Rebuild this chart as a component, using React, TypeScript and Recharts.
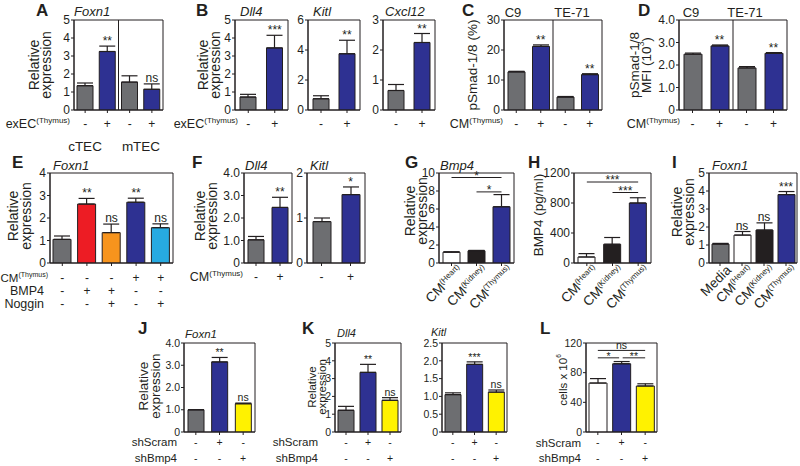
import React from "react";
import {
  ComposedChart,
  Bar,
  Line,
  XAxis,
  YAxis,
  ErrorBar,
  Cell,
  LabelList,
  ReferenceLine,
  ReferenceArea,
} from "recharts";

const INK = "#231f20";
const FONT = "'Liberation Sans', Arial, Helvetica, sans-serif";
const GRAY = "#6d6e71";
const NAVY = "#2e3192";
const BLACK = "#231f20";
const WHITE = "#ffffff";
const YELLOW = "#fff200";
const RED = "#ed1c24";
const ORANGE = "#f7941d";
const SKY = "#27aae1";

// A - Foxn1 in cTEC / mTEC
const aValues = [1.35, 3.25, 1.55, 1.15];
const aErrors = [0.15, 0.3, 0.35, 0.3];
const aSig = ["", "**", "", "ns"];
const aExEC = ["-", "+", "-", "+"];

// B - Dll4, Kitl, Cxcl12
const bDll4 = [0.72, 3.45];
const bDll4Err = [0.15, 0.7];
const bKitl = [0.75, 3.75];
const bKitlErr = [0.2, 0.9];
const bCxcl12 = [0.65, 2.25];
const bCxcl12Err = [0.2, 0.3];
const bDll4Sig = ["", "***"];
const bSig = ["", "**"];
const pairTreat = ["-", "+"];

// C / D - pSmad-1/8
const cValues = [12.7, 21.2, 4.3, 11.8];
const cErrors = [0.2, 0.5, 0.2, 0.3];
const dValues = [2.48, 2.85, 1.87, 2.52];
const dErrors = [0.05, 0.04, 0.06, 0.03];
const cdSig = ["", "**", "", "**"];
const cmTreat = ["-", "+", "-", "+"];

// E - Foxn1 with BMP4 / Noggin
const eValues = [1.05, 2.62, 1.35, 2.7, 1.57];
const eErrors = [0.15, 0.25, 0.38, 0.18, 0.17];
const eSig = ["", "**", "ns", "**", "ns"];
const eCM = ["-", "-", "-", "+", "+"];
const eBMP4 = ["-", "+", "+", "-", "-"];
const eNoggin = ["-", "-", "+", "-", "+"];

// F - Dll4, Kitl
const fDll4 = [1.03, 2.47];
const fDll4Err = [0.15, 0.45];
const fKitl = [0.92, 1.52];
const fKitlErr = [0.08, 0.17];
const fDll4Sig = ["", "**"];
const fKitlSig = ["", "*"];

// G / H - Bmp4 by CM source
const organLabels = [
  ["CM", "(Heart)"],
  ["CM", "(Kidney)"],
  ["CM", "(Thymus)"],
];
const gValues = [1.2, 1.35, 6.25];
const gErrors = [0.05, 0.05, 1.35];
const hValues = [80, 250, 800];
const hErrors = [45, 90, 70];
const noSig3 = ["", "", ""];

// I - Foxn1 by CM source
const iLabels = [["Media", ""], ...organLabels];
const iValues = [1.05, 1.55, 1.83, 3.8];
const iErrors = [0.04, 0.2, 0.4, 0.17];
const iSig = ["", "ns", "ns", "***"];

// J / K / L - shScram / shBmp4
const jValues = [1.0, 3.15, 1.27];
const jErrors = [0, 0.2, 0.03];
const jSig = ["", "**", "ns"];
const kDll4 = [1.22, 3.35, 1.78];
const kDll4Err = [0.22, 0.45, 0.15];
const kDll4Sig = ["", "**", "ns"];
const kKitl = [1.05, 1.9, 1.12];
const kKitlErr = [0.05, 0.07, 0.06];
const kKitlSig = ["", "***", "ns"];
const lValues = [66, 92, 62];
const lErrors = [6, 3, 3];
const shScram = ["-", "+", "-"];
const shBmp4 = ["-", "-", "+"];

interface Bracket {
  from: number;
  to: number;
  y: number;
  text: string;
}
interface Row {
  y: number;
  vals: string[];
}
interface PanelProps {
  left: number;
  top: number;
  width: number;
  height: number;
  values: number[];
  errors: number[];
  sig: string[];
  colors: string[];
  yMax: number;
  ticks: number[];
  decimals?: number;
  barSize: number;
  fs?: number;
  dividers?: number[];
  brackets?: Bracket[];
  rows?: Row[];
  rotated?: string[][];
}

const PAD_T = 16;
const AX_W = 42;
const PAD_R = 6;
const AX_H = 62;

function Panel(p: PanelProps) {
  const fs = p.fs ?? 12;
  const n = p.values.length;
  const originY = p.top - PAD_T;
  const data = p.values.map((v, i) => ({
    x: i + 1,
    v,
    err: [0, p.errors[i]],
    top: v + p.errors[i],
    sig: p.sig[i],
  }));
  const xTicks = data.map((d) => d.x);

  const renderTick = (t: any) => {
    const i = Math.round(t.payload.value) - 1;
    const x = t.x;
    if (p.rotated) {
      const [main, sup] = p.rotated[i];
      const ax = x + 12;
      const ay = PAD_T + p.height + 8;
      return (
        <text
          x={ax}
          y={ay}
          transform={`rotate(-45 ${ax} ${ay})`}
          textAnchor="end"
          fontSize={fs + 1.5}
          fill={INK}
          fontFamily={FONT}
        >
          {main}
          {sup ? (
            <tspan fontSize={fs - 4} dy={-5}>
              {sup}
            </tspan>
          ) : null}
        </text>
      );
    }
    return (
      <g>
        {(p.rows || []).map((r, k) => (
          <text
            key={k}
            x={x}
            y={r.y - originY}
            textAnchor="middle"
            fontSize={fs}
            fill={INK}
            fontFamily={FONT}
          >
            {r.vals[i]}
          </text>
        ))}
      </g>
    );
  };

  const sigLabel = (props: any) => {
    const { x, y, value } = props;
    if (!value) return null;
    const star = String(value).includes("*");
    return (
      <text
        x={x}
        y={y + (star ? -1 : -2)}
        textAnchor="middle"
        fontSize={fs}
        fill={INK}
        fontFamily={FONT}
      >
        {value}
      </text>
    );
  };

  const fmt = (v: number) => (v === 0 ? "0" : v.toFixed(p.decimals ?? 0));

  return (
    <div
      style={{
        position: "absolute",
        left: p.left - AX_W,
        top: originY,
        width: p.width + AX_W + PAD_R,
        height: p.height + PAD_T + AX_H,
      }}
    >
      <ComposedChart
        width={p.width + AX_W + PAD_R}
        height={p.height + PAD_T + AX_H}
        data={data}
        margin={{ top: PAD_T, right: PAD_R, left: 0, bottom: 0 }}
        style={{ overflow: "visible" }}
      >
        <XAxis
          dataKey="x"
          type="number"
          domain={[0.5, n + 0.5]}
          ticks={xTicks}
          interval={0}
          height={AX_H}
          tick={renderTick}
          tickSize={3}
          axisLine={{ stroke: INK }}
          tickLine={{ stroke: INK }}
          allowDataOverflow
        />
        <YAxis
          type="number"
          domain={[0, p.yMax]}
          ticks={p.ticks}
          interval={0}
          width={AX_W}
          tickFormatter={fmt}
          tickSize={3}
          tickMargin={1}
          tick={{ fontSize: fs, fill: INK, fontFamily: FONT }}
          axisLine={{ stroke: INK }}
          tickLine={{ stroke: INK }}
          allowDataOverflow
        />
        <Bar
          dataKey="v"
          barSize={p.barSize}
          stroke={INK}
          strokeWidth={1}
          isAnimationActive={false}
        >
          {data.map((d, i) => (
            <Cell key={i} fill={p.colors[i]} />
          ))}
          <ErrorBar
            dataKey="err"
            direction="y"
            width={8}
            stroke={INK}
            strokeWidth={1.2}
            isAnimationActive={false}
          />
        </Bar>
        <Line
          dataKey="top"
          stroke="none"
          dot={false}
          activeDot={false}
          legendType="none"
          isAnimationActive={false}
        >
          <LabelList dataKey="sig" content={sigLabel} />
        </Line>
        {(p.dividers || []).map((d) => (
          <ReferenceLine key={d} x={d} stroke={INK} strokeWidth={1} />
        ))}
        {(p.brackets || []).map((b, k) => (
          <ReferenceLine
            key={"b" + k}
            segment={[
              { x: b.from, y: b.y },
              { x: b.to, y: b.y },
            ]}
            stroke={INK}
            strokeWidth={1}
            label={{
              value: b.text,
              position: "top",
              offset: b.text.includes("*") ? -2 : 1,
              fontSize: fs,
              fill: INK,
              fontFamily: FONT,
            }}
          />
        ))}
        <ReferenceArea
          x1={0.5}
          x2={n + 0.5}
          y1={0}
          y2={p.yMax}
          fill="none"
          stroke={INK}
          strokeWidth={1}
        />
      </ComposedChart>
    </div>
  );
}

function Letter({ x, y, c }: { x: number; y: number; c: string }) {
  return (
    <text x={x} y={y} fontSize={17} fontWeight="bold" fill={INK}>
      {c}
    </text>
  );
}

function Title({ x, y, t, size = 13, italic = true, anchor = "start" }: any) {
  return (
    <text
      x={x}
      y={y}
      fontSize={size}
      fontStyle={italic ? "italic" : "normal"}
      textAnchor={anchor}
      fill={INK}
    >
      {t}
    </text>
  );
}

function YLabel({ x, y, t, size = 14, sup }: any) {
  return (
    <text
      x={x}
      y={y}
      transform={`rotate(-90 ${x} ${y})`}
      textAnchor="middle"
      dominantBaseline="central"
      fontSize={size}
      fill={INK}
    >
      {t}
      {sup ? (
        <>
          <tspan fontSize={size - 5} dy={-5}>
            {sup[0]}
          </tspan>
          <tspan dy={5}>{sup[1]}</tspan>
        </>
      ) : null}
    </text>
  );
}

function RowLabel({ x, y, t, sup, size = 12.5 }: any) {
  return (
    <text x={x} y={y} fontSize={size} textAnchor="end" fill={INK}>
      {t}
      {sup ? (
        <tspan fontSize={size - 4.5} dy={-5}>
          {sup}
        </tspan>
      ) : null}
    </text>
  );
}

export default function App() {
  const bottomRows = [
    { y: 446, vals: shScram },
    { y: 462, vals: shBmp4 },
  ];
  return (
    <div
      style={{
        position: "absolute",
        left: 0,
        top: 0,
        width: 800,
        height: 466,
        background: "#fff",
        fontFamily: FONT,
        overflow: "hidden",
      }}
    >
      {/* top row */}
      <Panel left={74} top={20} width={89} height={90} values={aValues} errors={aErrors} sig={aSig}
        colors={[GRAY, NAVY, GRAY, NAVY]} yMax={5} ticks={[0, 1, 2, 3, 4, 5]} barSize={16}
        dividers={[2.5]} rows={[{ y: 128, vals: aExEC }]} />
      <Panel left={235} top={20} width={53} height={90} values={bDll4} errors={bDll4Err} sig={bDll4Sig}
        colors={[GRAY, NAVY]} yMax={5} ticks={[0, 1, 2, 3, 4, 5]} barSize={16}
        rows={[{ y: 128, vals: pairTreat }]} />
      <Panel left={308} top={20} width={52} height={90} values={bKitl} errors={bKitlErr} sig={bSig}
        colors={[GRAY, NAVY]} yMax={6} ticks={[0, 2, 4, 6]} barSize={16}
        rows={[{ y: 128, vals: pairTreat }]} />
      <Panel left={383} top={20} width={52} height={90} values={bCxcl12} errors={bCxcl12Err} sig={bSig}
        colors={[GRAY, NAVY]} yMax={3} ticks={[0, 1, 2, 3]} barSize={16}
        rows={[{ y: 128, vals: pairTreat }]} />
      <Panel left={504} top={20} width={98} height={90} values={cValues} errors={cErrors} sig={cdSig}
        colors={[GRAY, NAVY, GRAY, NAVY]} yMax={30} ticks={[0, 10, 20, 30]} barSize={17}
        dividers={[2.5]} rows={[{ y: 128, vals: cmTreat }]} />
      <Panel left={679} top={20} width={108} height={90} values={dValues} errors={dErrors} sig={cdSig}
        colors={[GRAY, NAVY, GRAY, NAVY]} yMax={4} ticks={[0, 1, 2, 3, 4]} decimals={1} barSize={18}
        dividers={[2.5]} rows={[{ y: 128, vals: cmTreat }]} />

      {/* middle row */}
      <Panel left={50} top={173} width={123} height={90} values={eValues} errors={eErrors} sig={eSig}
        colors={[GRAY, RED, ORANGE, NAVY, SKY]} yMax={4} ticks={[0, 1, 2, 3, 4]} barSize={18}
        rows={[{ y: 282, vals: eCM }, { y: 295, vals: eBMP4 }, { y: 308, vals: eNoggin }]} />
      <Panel left={244} top={173} width={48} height={90} values={fDll4} errors={fDll4Err} sig={fDll4Sig}
        colors={[GRAY, NAVY]} yMax={4} ticks={[0, 1, 2, 3, 4]} decimals={1} barSize={16}
        rows={[{ y: 281, vals: pairTreat }]} />
      <Panel left={307} top={173} width={58} height={90} values={fKitl} errors={fKitlErr} sig={fKitlSig}
        colors={[GRAY, NAVY]} yMax={2} ticks={[0, 1, 2]} barSize={18}
        rows={[{ y: 281, vals: pairTreat }]} />
      <Panel left={439} top={173} width={75} height={90} values={gValues} errors={gErrors} sig={noSig3}
        colors={[WHITE, BLACK, NAVY]} yMax={10} ticks={[0, 2, 4, 6, 8, 10]} barSize={17}
        rotated={organLabels}
        brackets={[{ from: 1, to: 3, y: 9.5, text: "*" }, { from: 2, to: 3, y: 7.9, text: "*" }]} />
      <Panel left={574} top={173} width={77} height={90} values={hValues} errors={hErrors} sig={noSig3}
        colors={[WHITE, BLACK, NAVY]} yMax={1200} ticks={[0, 400, 800, 1200]} barSize={17}
        rotated={organLabels}
        brackets={[{ from: 1, to: 3, y: 1080, text: "***" }, { from: 2, to: 3, y: 940, text: "***" }]} />
      <Panel left={709} top={173} width={88} height={90} values={iValues} errors={iErrors} sig={iSig}
        colors={[GRAY, WHITE, BLACK, NAVY]} yMax={5} ticks={[0, 1, 2, 3, 4, 5]} barSize={17}
        rotated={iLabels} />

      {/* bottom row */}
      <Panel left={184} top={343} width={71} height={89} values={jValues} errors={jErrors} sig={jSig}
        colors={[GRAY, NAVY, YELLOW]} yMax={4} ticks={[0, 1, 2, 3, 4]} decimals={1} barSize={16} fs={10.5}
        rows={bottomRows} />
      <Panel left={335} top={343} width={66} height={89} values={kDll4} errors={kDll4Err} sig={kDll4Sig}
        colors={[GRAY, NAVY, YELLOW]} yMax={5} ticks={[0, 1, 2, 3, 4, 5]} barSize={16} fs={10.5}
        rows={bottomRows} />
      <Panel left={442} top={343} width={65} height={89} values={kKitl} errors={kKitlErr} sig={kKitlSig}
        colors={[GRAY, NAVY, YELLOW]} yMax={2.5} ticks={[0, 0.5, 1, 1.5, 2, 2.5]} decimals={1} barSize={16} fs={10.5}
        rows={bottomRows} />
      <Panel left={586} top={343} width={71} height={89} values={lValues} errors={lErrors} sig={noSig3}
        colors={[WHITE, NAVY, YELLOW]} yMax={120} ticks={[0, 40, 80, 120]} barSize={18} fs={10.5}
        rows={bottomRows}
        brackets={[
          { from: 1, to: 3, y: 110, text: "ns" },
          { from: 1, to: 1.9, y: 100, text: "*" },
          { from: 2.05, to: 3, y: 100, text: "**" },
        ]} />

      {/* annotations */}
      <svg
        width={800}
        height={466}
        style={{ position: "absolute", left: 0, top: 0, pointerEvents: "none", fontFamily: FONT }}
      >
        <Letter x={36} y={16} c="A" />
        <Letter x={196} y={16} c="B" />
        <Letter x={462} y={16} c="C" />
        <Letter x={638} y={16} c="D" />
        <Letter x={12} y={168} c="E" />
        <Letter x={192} y={168} c="F" />
        <Letter x={405} y={168} c="G" />
        <Letter x={528} y={168} c="H" />
        <Letter x={672} y={168} c="I" />
        <Letter x={138} y={334} c="J" />
        <Letter x={302} y={334} c="K" />
        <Letter x={540} y={334} c="L" />

        <Title x={74} y={16} t="Foxn1" />
        <Title x={240} y={16} t="Dll4" />
        <Title x={313} y={16} t="Kitl" />
        <Title x={385} y={16} t="Cxcl12" />
        <Title x={513} y={17} t="C9" italic={false} anchor="middle" />
        <Title x={572} y={17} t="TE-71" italic={false} anchor="middle" />
        <Title x={691} y={17} t="C9" italic={false} anchor="middle" />
        <Title x={745} y={17} t="TE-71" italic={false} anchor="middle" />
        <Title x={53} y={170} t="Foxn1" />
        <Title x={245} y={170} t="Dll4" />
        <Title x={310} y={170} t="Kitl" />
        <Title x={440} y={170} t="Bmp4" />
        <Title x={712} y={170} t="Foxn1" />
        <Title x={185} y={338} t="Foxn1" size={11.5} />
        <Title x={337} y={337} t="Dll4" size={11} />
        <Title x={431} y={336} t="Kitl" size={11} />

        <YLabel x={34} y={65} t="Relative" />
        <YLabel x={46} y={65} t="expression" />
        <YLabel x={203} y={65} t="Relative" />
        <YLabel x={215} y={65} t="expression" />
        <YLabel x={472} y={65} t="pSmad-1/8 (%)" size={13.5} />
        <YLabel x={634} y={65} t="pSmad-1/8" size={13.5} />
        <YLabel x={646} y={65} t="MFI (10" sup={["3", ")"]} size={13.5} />
        <YLabel x={13} y={216} t="Relative" />
        <YLabel x={26} y={216} t="expression" />
        <YLabel x={200} y={216} t="Relative" />
        <YLabel x={212} y={216} t="expression" />
        <YLabel x={410} y={211} t="Relative" />
        <YLabel x={422} y={211} t="expression" />
        <YLabel x={538} y={215} t="BMP4 (pg/ml)" size={13.5} />
        <YLabel x={677} y={212} t="Relative" />
        <YLabel x={689} y={212} t="expression" />
        <YLabel x={143} y={386} t="Relative" size={13.5} />
        <YLabel x={155} y={386} t="expression" size={13.5} />
        <YLabel x={312} y={387} t="Relative" size={11.5} />
        <YLabel x={322} y={387} t="expression" size={11.5} />
        <YLabel x={563} y={380} t="cells x 10" sup={["6", ""]} size={11.5} />

        <RowLabel x={70} y={128} t="exEC" sup="(Thymus)" />
        <Title x={85} y={151} t="cTEC" italic={false} anchor="middle" size={13.5} />
        <Title x={141} y={151} t="mTEC" italic={false} anchor="middle" size={13.5} />
        <RowLabel x={238} y={128} t="exEC" sup="(Thymus)" />
        <RowLabel x={503} y={128} t="CM" sup="(Thymus)" />
        <RowLabel x={680} y={128} t="CM" sup="(Thymus)" />
        <RowLabel x={48} y={282} t="CM" sup="(Thymus)" size={11.5} />
        <RowLabel x={44} y={295} t="BMP4" />
        <RowLabel x={44} y={308} t="Noggin" />
        <RowLabel x={243} y={281} t="CM" sup="(Thymus)" />
        <RowLabel x={177} y={446} t="shScram" size={11.5} />
        <RowLabel x={177} y={462} t="shBmp4" size={11.5} />
        <RowLabel x={318} y={446} t="shScram" size={11.5} />
        <RowLabel x={318} y={462} t="shBmp4" size={11.5} />
        <RowLabel x={581} y={447} t="shScram" size={11.5} />
        <RowLabel x={581} y={462} t="shBmp4" size={11.5} />
      </svg>
    </div>
  );
}
